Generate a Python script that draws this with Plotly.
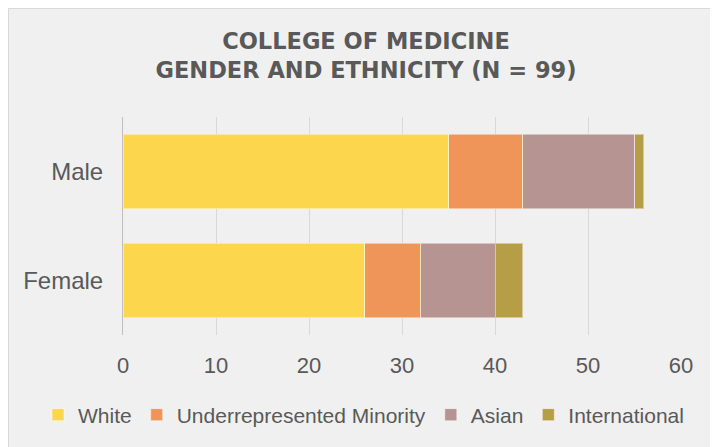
import plotly.graph_objects as go

categories = ["Female", "Male"]
series_names = ["White", "Underrepresented Minority", "Asian", "International"]
white = [26, 35]
urm = [6, 8]
asian = [8, 12]
international = [3, 1]
x_ticks = [0, 10, 20, 30, 40, 50, 60]

series_values = [white, urm, asian, international]
colors = ["#FCD74E", "#F0955A", "#B59491", "#B59E46"]

FONT = "Liberation Sans, Arial, sans-serif"
TXT = "#595959"
BG = "#F0F0F0"

fig = go.Figure()
for name, vals, col in zip(series_names, series_values, colors):
    fig.add_trace(go.Bar(
        y=categories, x=vals, name=name, orientation="h",
        marker=dict(color=col, line=dict(color="rgba(255,255,255,0.45)", width=1)),
        hoverinfo="x+y+name",
    ))

# the page puts the figure 8px in from the top-left corner
OFF = 8
W, H = 718, 447
L = 123 - OFF
R = W - (681 - OFF)
T = 117 - OFF
B = H - (335 - OFF)
pw, ph = W - L - R, H - T - B

def px_to_paper_x(px):
    return (px - L) / pw

def px_to_paper_y(py):
    return (H - B - py) / ph

# chart-area border
fig.add_shape(
    type="rect", xref="paper", yref="paper", layer="below",
    x0=px_to_paper_x(0.5), x1=px_to_paper_x(W + 5),
    y0=px_to_paper_y(H + 5), y1=px_to_paper_y(0.5),
    fillcolor=BG, line=dict(color="#D9D9D9", width=1),
)

fig.update_layout(
    width=W, height=H,
    margin=dict(l=L, r=R, t=T, b=B, autoexpand=False),
    paper_bgcolor=BG,
    plot_bgcolor="rgba(0,0,0,0)",
    barmode="stack",
    bargap=0.32,
    font=dict(family=FONT, color=TXT),
    title=dict(
        text="<b>COLLEGE OF MEDICINE<br>GENDER AND ETHNICITY (N = 99)</b>",
        font=dict(family="DejaVu Sans, sans-serif", size=22.5, color=TXT),
        x=(366 - OFF) / W, xref="container", xanchor="center",
        y=1 - 41 / H, yref="container", yanchor="top",
    ),
    xaxis=dict(
        range=[0, 60], tickvals=x_ticks, showgrid=True,
        gridcolor="#D9D9D9", gridwidth=1, zeroline=False, showline=False,
        tickfont=dict(family=FONT, size=22, color=TXT),
        ticklabelstandoff=15, fixedrange=True,
    ),
    yaxis=dict(
        showline=True, linecolor="#BFBFBF", linewidth=1,
        showgrid=False, zeroline=False,
        tickfont=dict(family=FONT, size=24, color=TXT),
        ticklabelstandoff=14, fixedrange=True,
    ),
    legend=dict(
        orientation="h", xref="paper", yref="paper",
        x=px_to_paper_x(30), xanchor="left",
        y=px_to_paper_y(407), yanchor="middle",
        font=dict(family=FONT, size=21, color=TXT),
        bgcolor="rgba(0,0,0,0)", traceorder="normal",
        itemwidth=30,
    ),
    showlegend=True,
)

fig.write_html("out.html")
